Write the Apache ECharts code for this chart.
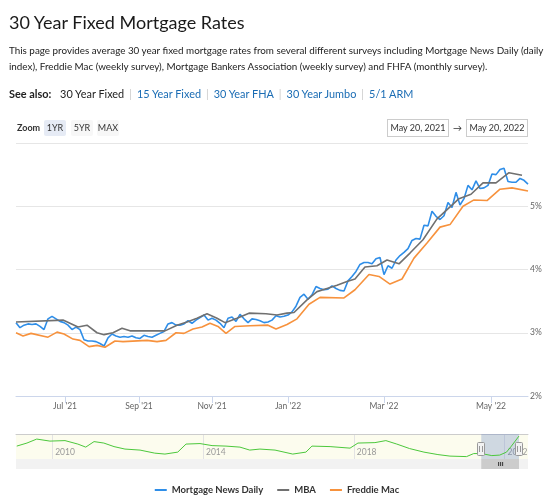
<!DOCTYPE html>
<html>
<head>
<meta charset="utf-8">
<script src="https://cdn.jsdelivr.net/npm/echarts@6/dist/echarts.min.js"></script>
<style>
  body { margin: 0; background: #fff; font-family: Lato, "Noto Sans", sans-serif; color: #222; }
  #wrap { position: relative; width: 554px; height: 499px; overflow: hidden; }
  #chart { position: absolute; left: 0; top: 0; width: 554px; height: 499px; }
  .abs { position: absolute; white-space: nowrap; }
  h1 { margin: 0; font-weight: 400; font-size: 18px; line-height: 22px; left: 9px; top: 11px; color: #1a1a1a; }
  .desc { left: 9px; top: 41.5px; font-size: 9.85px; line-height: 16px; }
  .see { left: 9px; top: 85.5px; font-size: 10.9px; line-height: 16px; }
  .see b { font-weight: 700; margin-right: 6px; }
  .see a { color: #1a6cb4; text-decoration: none; }
  .see .sep { color: #ccc; margin: 0 5px; }
  .zoomlbl { left: 17px; top: 121px; font-size: 9px; line-height: 14px; font-weight: 700; color: #333; }
  .btn { top: 120px; height: 16px; line-height: 16px; font-size: 9px; text-align: center; color: #333; background: #f7f7f7; border-radius: 2px; }
  .btn.on { background: #e6ebf5; }
  .datebox { top: 119px; height: 16px; line-height: 16px; font-size: 9px; text-align: center; color: #333; border: 1px solid #ccc; background: #fff; }
  .arrow { left: 453px; top: 119px; font-size: 9px; line-height: 18px; color: #333; }
</style>
</head>
<body>
<div id="wrap">
  <div id="chart"></div>
  <h1 class="abs">30 Year Fixed Mortgage Rates</h1>
  <div class="abs desc">This page provides average 30 year fixed mortgage rates from several different surveys including Mortgage News Daily (daily<br>index), Freddie Mac (weekly survey), Mortgage Bankers Association (weekly survey) and FHFA (monthly survey).</div>
  <div class="abs see"><b>See also:</b> 30 Year Fixed<span class="sep">|</span><a href="#">15 Year Fixed</a><span class="sep">|</span><a href="#">30 Year FHA</a><span class="sep">|</span><a href="#">30 Year Jumbo</a><span class="sep">|</span><a href="#">5/1 ARM</a></div>
  <div class="abs zoomlbl">Zoom</div>
  <div class="abs btn on" style="left:44px;width:22px">1YR</div>
  <div class="abs btn" style="left:71px;width:22px">5YR</div>
  <div class="abs btn" style="left:97px;width:22px">MAX</div>
  <div class="abs datebox" style="left:387px;width:60px">May 20, 2021</div>
  <div class="abs arrow">&rarr;</div>
  <div class="abs datebox" style="left:466px;width:60px">May 20, 2022</div>
</div>
<script>
// x values are ordinal positions (0..512) like the stock chart's ordinal axis
var monthPos = [49, 123, 196, 272, 368, 475];
var monthLabels = ["Jul '21", "Sep '21", "Nov '21", "Jan '22", "Mar '22", "May '22"];

// Mortgage News Daily, one reading every 4 ordinal units
var mndRates = [
  3.16, 3.08, 3.12, 3.14, 3.13, 3.14, 3.10, 3.05, 3.22, 3.26,
  3.22, 3.18, 3.16, 3.12, 3.05, 3.09, 3.05, 2.89, 2.87, 2.87,
  2.86, 2.83, 2.79, 2.92, 2.98, 2.95, 2.93, 2.94, 2.93, 2.95,
  2.92, 2.91, 2.96, 2.94, 2.93, 2.96, 2.99, 3.02, 3.14, 3.16,
  3.12, 3.12, 3.14, 3.19, 3.15, 3.20, 3.24, 3.28, 3.20, 3.23,
  3.20, 3.15, 3.08, 3.23, 3.25, 3.18, 3.29, 3.22, 3.16, 3.22,
  3.21, 3.19, 3.16, 3.17, 3.20, 3.27, 3.25, 3.26, 3.28, 3.33,
  3.42, 3.56, 3.61, 3.53, 3.60, 3.73, 3.70, 3.68, 3.69, 3.74,
  3.70, 3.67, 3.66, 3.82, 3.89, 3.97, 4.08, 4.11, 4.11, 4.09,
  4.17, 4.19, 3.92, 4.06, 4.02, 4.15, 4.22, 4.27, 4.33, 4.46,
  4.49, 4.48, 4.70, 4.69, 4.92, 4.84, 4.79, 4.85, 5.06, 4.98,
  5.22, 5.02, 5.12, 5.33, 5.26, 5.40, 5.28, 5.29, 5.33, 5.51,
  5.50, 5.58, 5.60, 5.39, 5.38, 5.38, 5.44, 5.41, 5.35
];
var mndStep = 4;

var mbaPoints = [
  [0, 3.17], [47, 3.20], [62, 3.09], [71, 3.12], [81, 3.00], [88, 2.97], [97, 3.00],
  [106, 3.07], [114, 3.03], [149, 3.03], [161, 3.12], [171, 3.17], [181, 3.23],
  [191, 3.30], [201, 3.23], [209, 3.16], [221, 3.23], [233, 3.31], [250, 3.30],
  [261, 3.28], [271, 3.31], [278, 3.32], [291, 3.52], [301, 3.65], [311, 3.70],
  [321, 3.75], [331, 3.81], [339, 3.85], [349, 4.04], [361, 4.06], [371, 4.15],
  [383, 4.09], [394, 4.26], [407, 4.47], [421, 4.80], [430, 4.93], [443, 5.12],
  [455, 5.19], [467, 5.37], [480, 5.37], [493, 5.53], [506, 5.49]
];

var freddiePoints = [
  [0, 3.00], [7, 2.95], [15, 2.99], [32, 2.93], [41, 3.01], [48, 2.98], [57, 2.90],
  [64, 2.88], [73, 2.78], [81, 2.80], [89, 2.77], [99, 2.87], [107, 2.86], [131, 2.88],
  [141, 2.86], [150, 2.88], [160, 3.00], [168, 2.99], [177, 3.06], [186, 3.09],
  [194, 3.15], [202, 3.10], [210, 2.99], [219, 3.10], [234, 3.11], [252, 3.12],
  [260, 3.06], [271, 3.13], [281, 3.22], [293, 3.45], [304, 3.56], [328, 3.55],
  [339, 3.68], [353, 3.92], [363, 3.89], [374, 3.77], [386, 3.85], [398, 4.18],
  [411, 4.42], [424, 4.67], [434, 4.71], [447, 5.00], [458, 5.10], [471, 5.09],
  [484, 5.27], [496, 5.29], [512, 5.24]
];

// navigator (full history)
var navYears = [
  2009.06, 2009.33, 2009.59, 2009.94, 2010.34, 2010.68, 2010.89, 2011.11, 2011.37, 2011.64,
  2011.93, 2012.33, 2012.72, 2012.99, 2013.33, 2013.55, 2013.92, 2014.24, 2014.61, 2014.98,
  2015.24, 2015.51, 2015.91, 2016.38, 2016.73, 2016.89, 2017.37, 2017.90, 2018.11, 2018.56,
  2018.85, 2019.14, 2019.48, 2019.86, 2020.23, 2020.55, 2020.99, 2021.18, 2021.39, 2021.66,
  2021.87, 2022.05, 2022.18, 2022.38
];
var navRates = [
  4.08, 4.50, 5.05, 4.77, 4.84, 4.36, 3.94, 4.70, 4.50, 4.01,
  3.67, 3.53, 3.11, 2.98, 3.25, 4.36, 4.43, 4.15, 4.08, 3.94,
  3.53, 3.67, 3.53, 2.98, 3.25, 4.08, 4.01, 3.80, 4.50, 4.56,
  4.84, 4.36, 3.74, 3.25, 2.91, 2.70, 2.63, 3.05, 3.05, 2.77,
  2.84, 3.25, 4.08, 5.46
];
var yearTicks = [2010, 2014, 2018, 2022];
var rangeStart = 2021.381, rangeEnd = 2022.381;

var seriesNames = ['Mortgage News Daily', 'MBA', 'Freddie Mac'];
var seriesColors = ['#2f8ee8', '#707070', '#f7923d'];

(function () {
  var myChart = echarts.init(document.getElementById('chart'));
  var font = 'Lato, "Noto Sans", sans-serif';
  var navGrid = { left: 16, right: 26, top: 434, height: 25 };

  var mndData = mndRates.map(function (v, i) { return [i * mndStep, v]; });
  var navData = navYears.map(function (y, i) { return [y, navRates[i]]; });

  function lineSeries(name, data, idx) {
    return {
      name: name, type: 'line', data: data,
      xAxisIndex: 0, yAxisIndex: 0,
      showSymbol: false, symbol: 'none',
      color: seriesColors[idx],
      lineStyle: { width: 1.6, color: seriesColors[idx] },
      z: 2 + idx
    };
  }

  var option = {
    animation: false,
    textStyle: { fontFamily: font },
    grid: [
      { left: 16, right: 26, top: 143, height: 253 },
      { left: navGrid.left, right: navGrid.right, top: navGrid.top, height: navGrid.height,
        show: true, backgroundColor: '#fcfcee', borderWidth: 0 }
    ],
    legend: {
      data: seriesNames,
      left: 'center', top: 480,
      icon: 'rect', itemWidth: 12, itemHeight: 2, itemGap: 14,
      textStyle: { fontFamily: font, fontSize: 9.5, fontWeight: 'bold', color: '#333' }
    },
    xAxis: [
      {
        type: 'value', gridIndex: 0, min: 0, max: 512,
        axisLine: { show: true, lineStyle: { color: '#ccd6eb' } },
        axisTick: { show: true, length: 7, customValues: monthPos, lineStyle: { color: '#ccd6eb' } },
        axisLabel: {
          customValues: monthPos, margin: 6, color: '#666', fontSize: 8.5, fontFamily: font,
          formatter: function (v) { return monthLabels[monthPos.indexOf(v)]; }
        },
        splitLine: { show: false }
      },
      {
        type: 'value', gridIndex: 1, min: 2009.04, max: 2022.62, position: 'bottom',
        axisLine: { show: false },
        axisTick: { show: false, customValues: yearTicks },
        axisLabel: {
          inside: true, customValues: yearTicks, margin: 2, align: 'left', padding: [0, 0, 0, 3],
          color: '#999', fontSize: 8.5, fontFamily: font,
          formatter: function (v) { return String(v); }
        },
        splitLine: { show: true, lineStyle: { color: '#e3e3e3' } }
      },
      {
        type: 'value', gridIndex: 1, min: 2009.04, max: 2022.62, position: 'top',
        axisLine: { show: true, lineStyle: { color: '#cccccc' } },
        axisTick: { show: false }, axisLabel: { show: false }, splitLine: { show: false }
      }
    ],
    yAxis: [
      {
        type: 'value', gridIndex: 0, min: 2, max: 6, interval: 1, position: 'right',
        axisLine: { show: false }, axisTick: { show: false },
        axisLabel: {
          formatter: '{value}%', margin: 2, color: '#666', fontSize: 8.5, fontFamily: font,
          showMaxLabel: false, verticalAlign: 'middle', padding: [0, 0, 5, 0]
        },
        splitLine: { lineStyle: { color: '#e6e6e6' } }
      },
      { type: 'value', gridIndex: 1, min: 2.3, max: 5.75, show: false }
    ],
    series: [
      lineSeries(seriesNames[0], mndData, 0),
      lineSeries(seriesNames[1], mbaPoints, 1),
      lineSeries(seriesNames[2], freddiePoints, 2),
      {
        name: 'navigator', type: 'line', data: navData,
        xAxisIndex: 1, yAxisIndex: 1, showSymbol: false, symbol: 'none', silent: true,
        lineStyle: { width: 1, color: '#4cc83c' },
        markArea: {
          silent: true,
          itemStyle: { color: 'rgba(102,133,194,0.3)' },
          data: [[{ xAxis: rangeStart }, { xAxis: rangeEnd }]]
        }
      }
    ]
  };

  myChart.setOption(option);

  // scrollbar and navigator handles, placed from the navigator axis
  var x0 = myChart.convertToPixel({ xAxisIndex: 1 }, rangeStart);
  var x1 = myChart.convertToPixel({ xAxisIndex: 1 }, rangeEnd);
  var sbY = navGrid.top + navGrid.height;
  var trackW = 554 - navGrid.left - navGrid.right;
  var g = [
    { type: 'rect', shape: { x: navGrid.left, y: sbY, width: trackW, height: 10 },
      style: { fill: '#f2f2f2' }, silent: true },
    { type: 'rect', shape: { x: x0, y: sbY, width: x1 - x0, height: 10 },
      style: { fill: '#cccccc' }, silent: true }
  ];
  var mid = (x0 + x1) / 2;
  [-2, 0, 2].forEach(function (d) {
    g.push({ type: 'line', shape: { x1: mid + d + 0.5, y1: sbY + 3, x2: mid + d + 0.5, y2: sbY + 7 },
      style: { stroke: '#333', lineWidth: 1 }, silent: true });
  });
  [x0, x1].forEach(function (hx) {
    g.push({ type: 'rect', shape: { x: Math.round(hx) - 3.5, y: navGrid.top + 8.5, width: 7, height: 13, r: 1 },
      style: { fill: '#f2f2f2', stroke: '#999', lineWidth: 1 }, silent: true, z: 10 });
    g.push({ type: 'line', shape: { x1: Math.round(hx) - 1.5, y1: navGrid.top + 12, x2: Math.round(hx) - 1.5, y2: navGrid.top + 18 },
      style: { stroke: '#999', lineWidth: 1 }, silent: true, z: 11 });
    g.push({ type: 'line', shape: { x1: Math.round(hx) + 1.5, y1: navGrid.top + 12, x2: Math.round(hx) + 1.5, y2: navGrid.top + 18 },
      style: { stroke: '#999', lineWidth: 1 }, silent: true, z: 11 });
  });
  myChart.setOption({ graphic: g });

  window.addEventListener('resize', function () {
    myChart.resize();
  });
})();
</script>
</body>
</html>
